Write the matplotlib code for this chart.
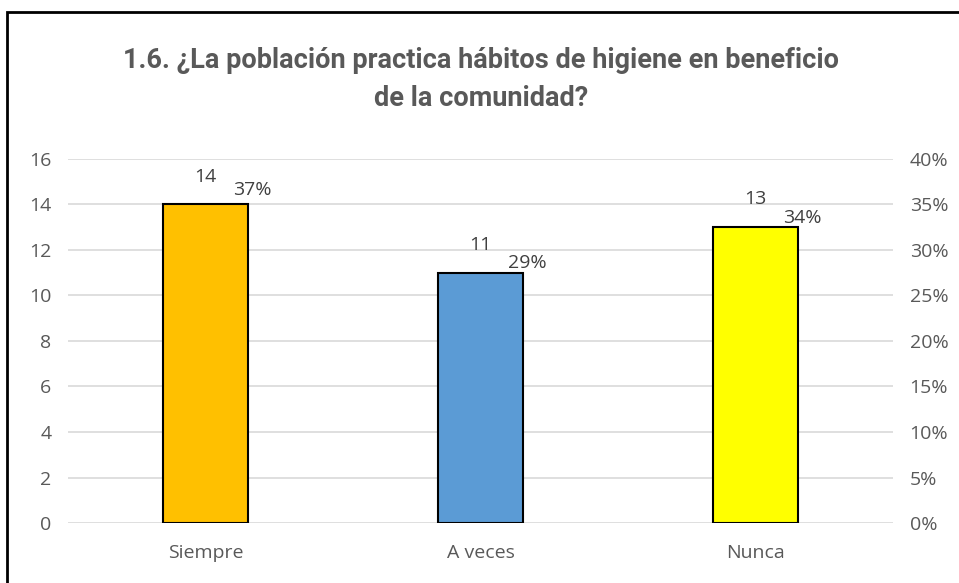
import matplotlib.pyplot as plt
from matplotlib.patches import Rectangle
from matplotlib.ticker import FuncFormatter

# data
categories = ['Siempre', 'A veces', 'Nunca']
counts = [14, 11, 13]
percents = [37, 29, 34]
bar_colors = ['#FFC000', '#5B9BD5', '#FFFF00']

title = '1.6. ¿La población practica hábitos de higiene en beneficio\nde la comunidad?'

plt.rcParams['font.family'] = ['Open Sans', 'DejaVu Sans']
grey = '#595959'

fig = plt.figure(figsize=(9.59, 5.83), dpi=100)
ax = fig.add_axes([0.0709, 0.1029, 0.8603, 0.6244])

x = range(len(categories))
bars = ax.bar(x, counts, width=0.31, color=bar_colors, edgecolor='black', linewidth=1.5, zorder=3)
ax.set_xlim(-0.5, 2.5)
ax.set_ylim(0, 16)
ax.set_yticks(range(0, 17, 2))
ax.set_xticks(list(x))
ax.set_xticklabels(categories)
ax.grid(axis='y', color='#d9d9d9', linewidth=1.2, zorder=0)
for s in ax.spines.values():
    s.set_visible(False)
ax.tick_params(axis='both', length=0, labelsize=14, labelcolor=grey)
ax.tick_params(axis='y', pad=12)
ax.tick_params(axis='x', pad=15)

# count labels above the bars
for i, c in enumerate(counts):
    ax.annotate(str(c), (i, c), xytext=(0, 20), textcoords='offset points',
                ha='center', va='center', fontsize=14, color='#404040')

# secondary axis for percentages
ax2 = ax.twinx()
ax2.set_ylim(0, 0.40)
ax2.set_yticks([i / 100 for i in range(0, 41, 5)])
ax2.yaxis.set_major_formatter(FuncFormatter(lambda v, p: f'{round(v * 100)}%'))
for s in ax2.spines.values():
    s.set_visible(False)
ax2.tick_params(axis='y', length=0, labelsize=14, labelcolor=grey, pad=12)
for i, p in enumerate(percents):
    ax2.annotate(f'{p}%', (i, p / 100), xytext=(34, -3), textcoords='offset points',
                 ha='center', va='center', fontsize=14, color='#404040')

fig.text(0.502, 0.864, title, ha='center', va='center', fontsize=19.5, fontweight='bold',
         color=grey, family=['Roboto', 'DejaVu Sans'], linespacing=1.55)

# chart frame (only top and left edges visible)
fig.add_artist(Rectangle((7 / 959, -0.1), 1.2, 1 - 12 / 583 + 0.1, transform=fig.transFigure,
                         fill=False, edgecolor='black', linewidth=2.0, clip_on=False))

fig.savefig('out.png', dpi=100)
